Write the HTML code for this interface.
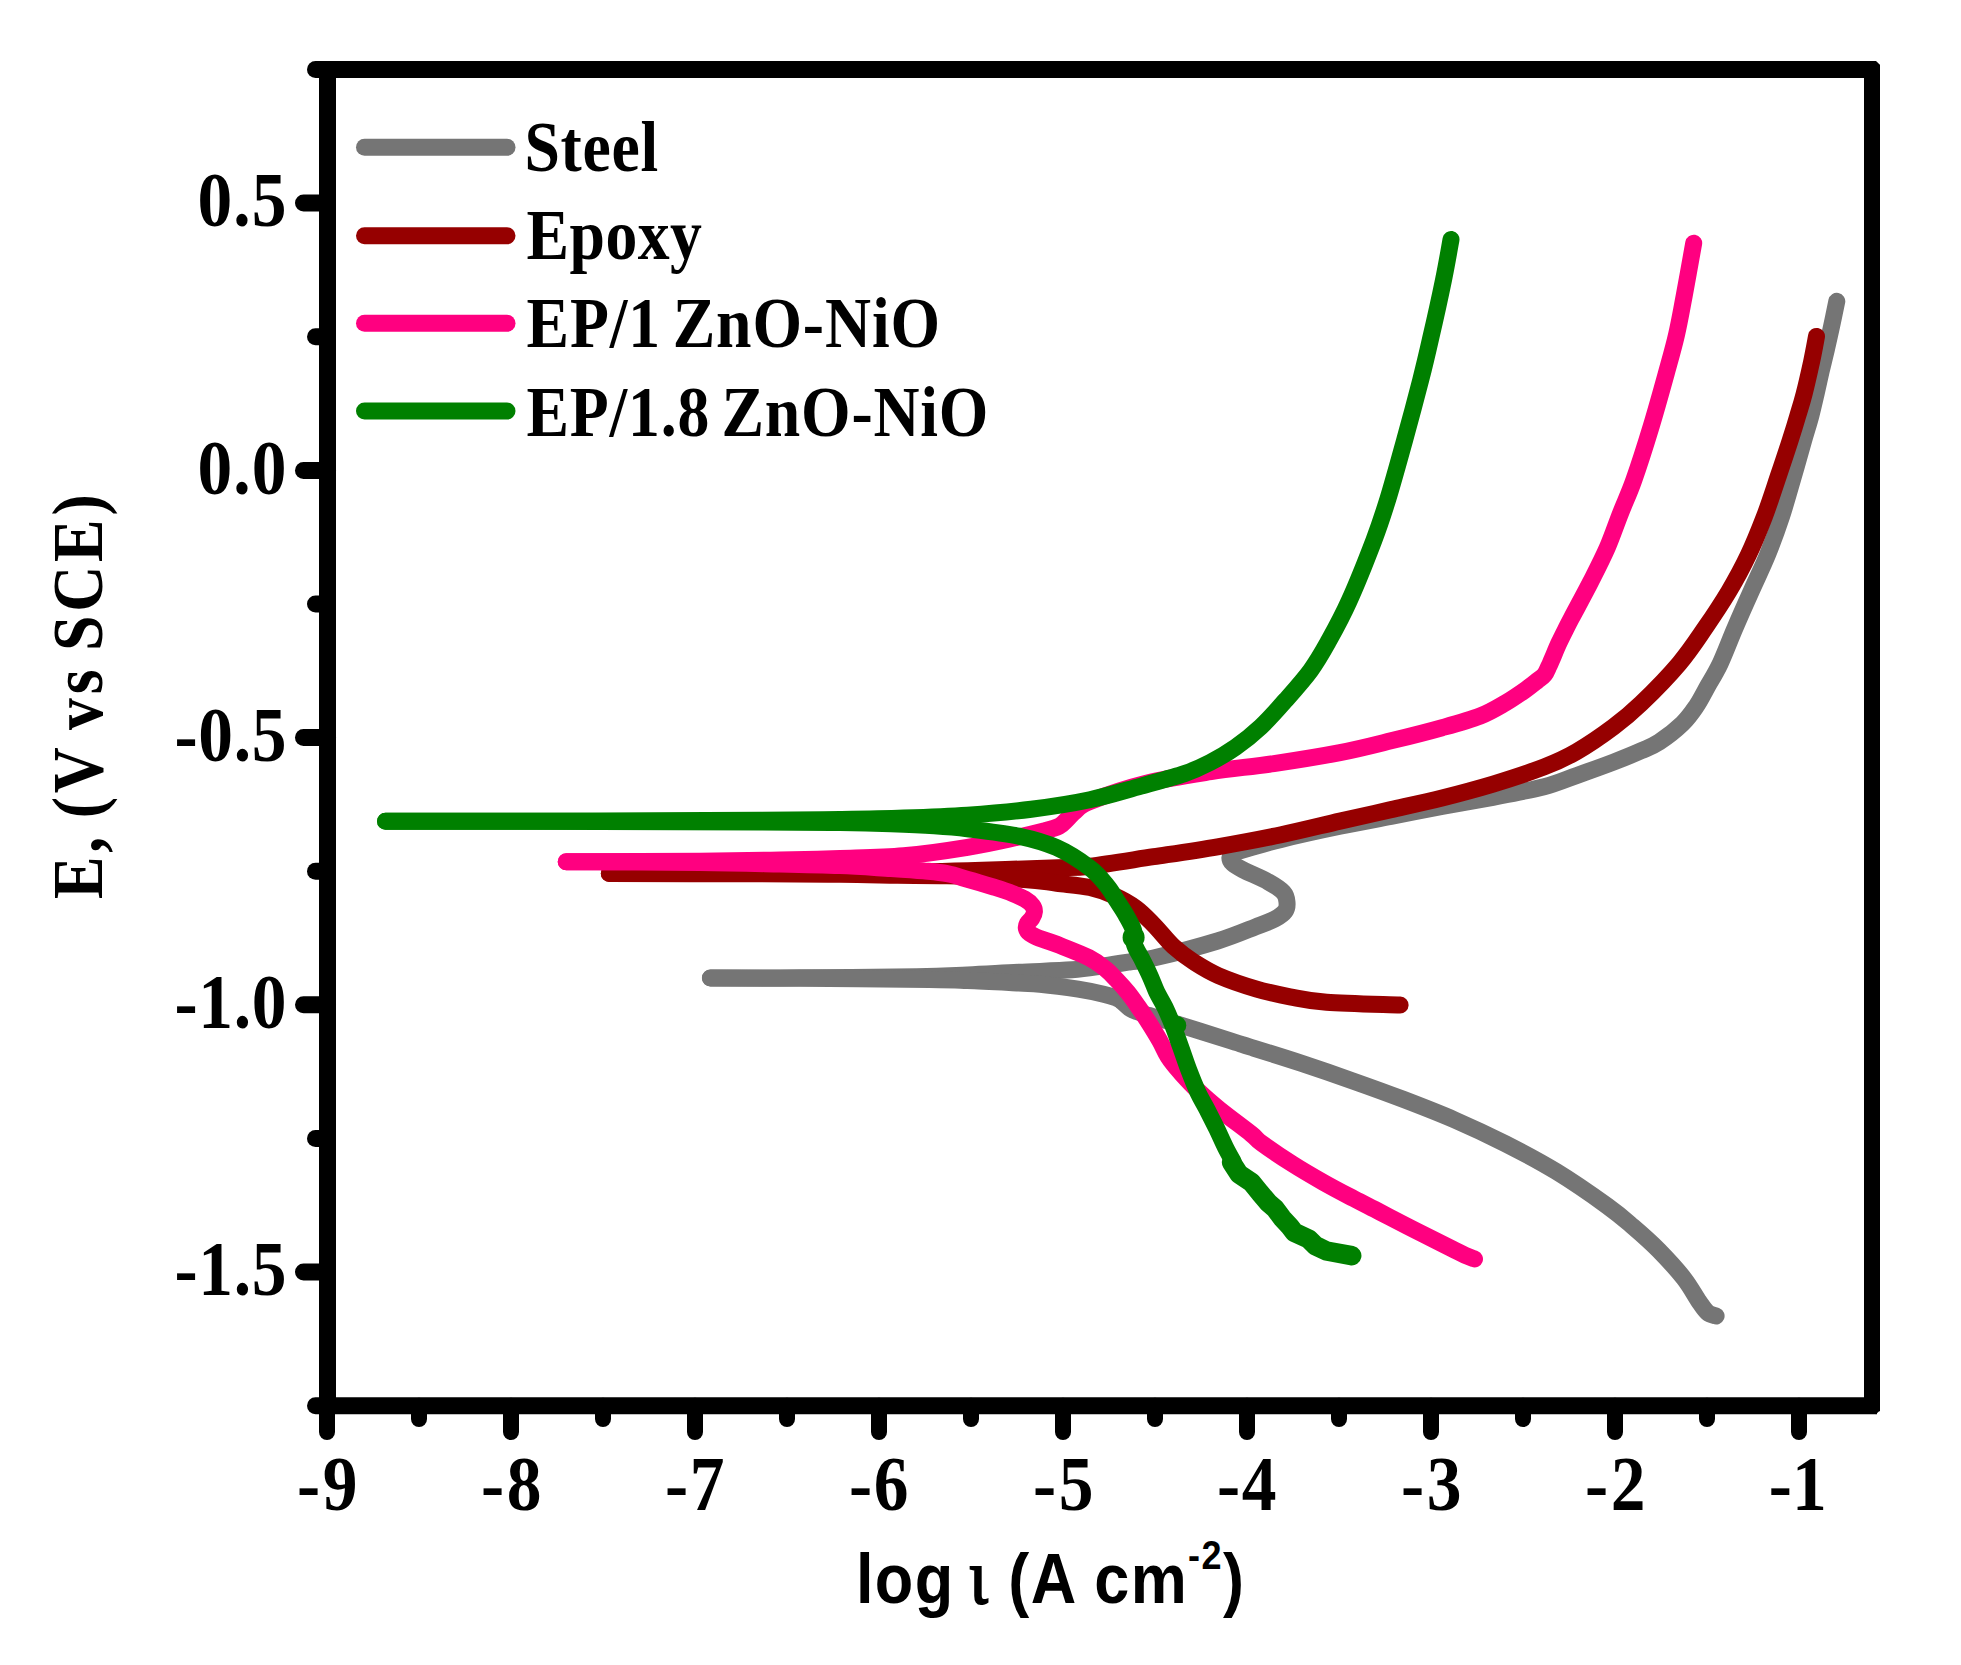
<!DOCTYPE html>
<html lang="en"><head><meta charset="utf-8"><title>Polarization curves</title>
<style>
html,body{margin:0;padding:0;background:#fff}
svg{display:block}
.ser{font-family:"Liberation Serif",serif;font-weight:bold;fill:#000;word-spacing:-6px}
.san{font-family:"Liberation Sans",sans-serif;font-weight:bold;fill:#000}
.cv{fill:none;stroke-width:17;stroke-linecap:round;stroke-linejoin:round}
.ax{fill:none;stroke:#000;stroke-width:17}
.tk{fill:none;stroke:#000;stroke-width:17;stroke-linecap:round}
</style></head><body>
<svg width="1961" height="1665" viewBox="0 0 1961 1665">
<rect width="1961" height="1665" fill="#fff"/>
<g class="cv" stroke="#757575">
<path d="M710.4 978.0C725.3 978.0 765.7 978.0 800.0 977.8C834.3 977.6 888.6 977.3 916.5 976.8C944.4 976.4 950.5 975.7 967.5 974.9C984.5 974.2 1001.1 973.1 1018.5 972.3C1035.9 971.4 1057.7 970.9 1071.9 969.8C1086.1 968.7 1094.2 967.1 1103.7 965.8C1113.3 964.5 1120.9 963.3 1129.2 962.0C1137.6 960.7 1139.0 961.6 1153.7 958.1C1168.4 954.6 1200.5 946.2 1217.5 941.0C1234.5 935.7 1246.1 930.5 1255.6 926.8C1265.2 923.2 1270.0 921.6 1274.9 919.0C1279.8 916.4 1283.1 914.1 1285.1 911.3C1287.1 908.5 1287.3 905.5 1287.0 902.4C1286.7 899.3 1286.6 895.9 1283.5 892.5C1280.4 889.1 1275.2 885.8 1268.5 882.0C1261.8 878.2 1249.0 873.0 1243.0 869.9C1237.0 866.8 1235.0 865.5 1232.8 863.5C1230.6 861.5 1229.8 859.6 1229.9 857.8C1230.0 856.0 1230.2 854.5 1233.4 852.9C1236.7 851.3 1241.4 850.5 1249.4 848.2C1257.4 845.9 1266.1 843.0 1281.2 839.4C1296.3 835.7 1321.7 830.1 1340.0 826.3C1358.3 822.4 1374.0 819.7 1391.0 816.4C1408.0 813.1 1425.1 809.6 1442.1 806.4C1459.1 803.2 1476.0 800.5 1493.0 797.3C1510.0 794.0 1530.1 790.3 1544.1 786.7C1558.1 783.1 1565.3 779.5 1576.9 775.4C1588.5 771.3 1602.8 766.2 1613.5 762.1C1624.2 758.0 1633.5 754.2 1641.1 750.8C1648.8 747.4 1652.6 746.4 1659.4 741.9C1666.3 737.3 1676.3 729.5 1682.4 723.6C1688.5 717.7 1691.8 712.8 1696.1 706.5C1700.3 700.3 1703.7 693.3 1707.7 686.1C1711.8 678.9 1715.6 673.2 1720.3 663.3C1724.9 653.5 1730.3 638.8 1735.5 626.9C1740.6 614.9 1745.7 603.5 1751.1 591.5C1756.4 579.5 1762.4 567.4 1767.5 554.9C1772.6 542.3 1777.3 529.4 1781.6 516.4C1785.8 503.4 1789.6 489.6 1793.3 476.8C1797.0 464.1 1800.9 450.2 1803.8 440.0C1806.7 429.9 1808.8 423.6 1810.8 416.0C1812.8 408.4 1814.3 401.7 1816.0 394.3C1817.7 386.9 1819.4 379.0 1821.1 371.5C1822.9 364.0 1824.6 357.0 1826.4 349.4C1828.1 341.8 1830.0 333.7 1831.7 325.7C1833.4 317.7 1836.0 305.4 1836.8 301.3"/>
<path d="M710.4 978.0C725.3 978.0 763.5 978.0 800.0 978.3C836.5 978.6 901.3 979.2 929.2 979.6C957.1 980.0 952.6 980.0 967.5 980.6C982.4 981.1 1006.4 982.4 1018.5 983.0C1030.6 983.7 1030.0 983.3 1040.0 984.3C1049.9 985.3 1067.6 987.6 1078.2 989.2C1088.8 990.9 1097.3 992.7 1103.6 994.2C1110.0 995.6 1113.4 996.9 1116.4 998.0C1119.4 999.2 1119.4 999.4 1121.5 1001.1C1123.7 1002.7 1126.7 1006.1 1129.3 1007.9C1131.8 1009.7 1134.2 1010.6 1136.9 1011.7C1139.7 1012.8 1140.7 1012.9 1145.8 1014.5C1150.9 1016.0 1153.3 1016.6 1167.5 1021.0C1181.7 1025.4 1217.4 1036.7 1231.2 1041.0C1245.0 1045.3 1238.4 1043.3 1250.0 1047.0C1261.6 1050.6 1284.0 1057.5 1301.0 1063.1C1318.0 1068.7 1335.1 1074.6 1352.1 1080.7C1369.1 1086.7 1386.1 1092.8 1403.1 1099.3C1420.1 1105.8 1437.2 1112.4 1454.2 1119.7C1471.2 1127.1 1488.2 1135.0 1505.2 1143.6C1522.3 1152.3 1539.2 1161.2 1556.3 1171.6C1573.3 1182.0 1594.5 1196.8 1607.3 1206.0C1620.0 1215.2 1624.3 1219.2 1632.8 1226.5C1641.3 1233.8 1650.0 1241.4 1658.5 1250.0C1666.9 1258.6 1677.0 1269.5 1683.7 1278.1C1690.5 1286.7 1695.0 1295.8 1699.0 1301.5C1703.0 1307.2 1704.7 1310.1 1707.5 1312.5C1710.3 1314.9 1714.7 1315.4 1716.1 1316.0"/>
</g>
<g class="cv" stroke="#960000">
<path d="M609.3 873.5C634.4 873.5 721.5 873.3 760.0 873.2C798.5 873.1 809.7 873.1 840.0 872.8C870.3 872.5 914.4 872.0 942.0 871.4C969.6 870.9 986.4 870.2 1005.7 869.5C1025.0 868.9 1044.0 868.3 1058.0 867.7C1072.1 867.1 1074.0 868.0 1090.0 866.2C1105.9 864.3 1132.5 859.9 1153.7 856.7C1175.0 853.5 1196.2 850.5 1217.5 846.8C1238.7 843.1 1260.8 839.0 1281.2 834.7C1301.6 830.4 1321.7 825.3 1340.0 821.1C1358.3 816.9 1374.0 813.5 1391.0 809.6C1408.0 805.8 1425.1 802.2 1442.1 798.0C1459.1 793.7 1476.1 789.2 1493.1 784.1C1510.1 778.9 1530.2 772.3 1544.2 766.9C1558.1 761.5 1565.2 758.3 1576.7 751.6C1588.3 744.9 1602.8 734.9 1613.5 726.9C1624.2 718.9 1630.2 714.0 1641.2 703.4C1652.1 692.9 1668.6 676.1 1679.3 663.4C1690.1 650.6 1697.5 638.9 1705.8 626.9C1714.0 615.0 1721.6 603.5 1728.8 591.5C1735.9 579.5 1742.5 567.4 1748.4 554.9C1754.4 542.4 1759.5 529.4 1764.5 516.4C1769.4 503.4 1773.8 489.6 1778.1 476.8C1782.4 464.1 1787.1 450.1 1790.3 440.0C1793.6 429.8 1795.5 423.6 1797.7 416.0C1800.0 408.4 1801.7 403.3 1804.0 394.3C1806.4 385.2 1809.5 371.3 1811.6 361.7C1813.7 352.1 1815.7 340.6 1816.5 336.4"/>
<path d="M609.3 873.5C634.4 873.5 721.6 873.7 760.0 873.8C798.4 873.9 817.1 874.0 840.0 874.3C862.9 874.5 879.6 875.0 897.4 875.3C915.2 875.5 926.0 875.2 947.0 875.8C968.0 876.5 1005.3 878.1 1023.6 879.4C1041.9 880.6 1045.7 881.9 1056.7 883.2C1067.8 884.6 1080.5 885.5 1089.9 887.5C1099.4 889.6 1106.0 892.1 1113.6 895.5C1121.3 898.9 1129.0 903.1 1135.8 908.1C1142.5 913.0 1147.7 918.7 1154.0 925.1C1160.3 931.5 1166.8 940.2 1173.4 946.4C1180.1 952.5 1186.4 957.1 1193.9 962.0C1201.4 966.8 1208.1 971.2 1218.6 975.7C1229.0 980.2 1244.8 985.6 1256.7 989.1C1268.6 992.7 1278.4 994.6 1290.0 996.8C1301.7 999.0 1308.3 1000.9 1326.6 1002.3C1344.9 1003.7 1387.8 1004.6 1400.1 1005.1"/>
</g>
<g class="cv" stroke="#ff0080">
<path d="M566.2 861.8C588.5 861.7 664.4 861.5 700.0 861.2C735.6 860.9 756.7 860.4 780.0 860.0C803.3 859.5 819.4 859.2 840.0 858.5C860.6 857.8 882.4 857.6 903.7 855.8C924.9 853.9 948.4 850.4 967.5 847.3C986.6 844.2 1005.7 839.7 1018.5 837.0C1031.2 834.3 1037.2 832.8 1044.0 831.0C1050.8 829.2 1055.5 828.0 1059.3 826.1C1063.1 824.2 1064.1 822.1 1066.9 819.5C1069.7 816.9 1071.9 813.6 1075.9 810.6C1079.8 807.5 1078.7 805.7 1090.5 801.2C1102.2 796.6 1126.3 788.2 1146.4 783.2C1166.5 778.3 1189.7 774.9 1211.0 771.6C1232.2 768.3 1252.4 766.8 1273.9 763.6C1295.4 760.4 1320.4 756.4 1340.0 752.6C1359.5 748.8 1374.0 745.0 1391.0 740.8C1408.0 736.7 1427.2 731.9 1442.1 727.7C1457.0 723.6 1469.6 720.2 1480.2 716.0C1490.9 711.8 1498.3 707.0 1506.0 702.6C1513.6 698.1 1521.1 692.8 1526.3 689.2C1531.4 685.6 1534.0 683.4 1537.0 681.0C1540.0 678.6 1542.5 677.3 1544.5 674.8C1546.5 672.3 1547.7 668.6 1549.0 666.0C1550.3 663.4 1550.4 662.8 1552.1 659.0C1553.8 655.1 1556.5 648.2 1559.1 642.7C1561.6 637.3 1564.8 631.1 1567.2 626.3C1569.6 621.5 1569.7 621.4 1573.6 614.0C1577.5 606.7 1584.9 593.2 1590.5 582.2C1596.1 571.1 1602.1 559.5 1607.2 547.9C1612.2 536.3 1616.2 524.1 1620.7 512.8C1625.1 501.5 1628.8 494.4 1633.9 479.9C1639.0 465.5 1645.9 443.8 1651.3 426.0C1656.7 408.2 1662.2 388.2 1666.4 373.0C1670.6 357.8 1673.6 347.6 1676.5 334.9C1679.5 322.1 1681.2 311.7 1684.1 296.4C1687.0 281.1 1692.1 252.1 1693.7 243.2"/>
<path d="M566.2 861.8C588.5 861.9 664.4 862.1 700.0 862.5C735.6 862.9 756.7 863.5 780.0 864.0C803.3 864.5 821.5 864.9 840.0 865.6C858.5 866.4 877.1 867.7 891.0 868.5C904.9 869.4 914.1 870.0 923.5 870.9C932.8 871.8 939.7 872.3 947.1 873.7C954.4 875.1 959.9 877.1 967.5 879.3C975.2 881.4 985.6 884.5 993.0 886.8C1000.4 889.2 1006.7 891.2 1012.1 893.3C1017.4 895.4 1021.5 897.2 1024.9 899.2C1028.3 901.2 1030.9 903.5 1032.5 905.6C1034.1 907.7 1034.5 909.8 1034.4 911.9C1034.3 914.0 1033.1 916.4 1031.9 918.3C1030.7 920.2 1028.3 921.7 1027.4 923.4C1026.5 925.1 1026.0 926.8 1026.4 928.5C1026.8 930.2 1027.9 932.0 1030.0 933.6C1032.1 935.2 1034.4 936.3 1038.9 938.1C1043.4 939.9 1048.5 941.1 1056.8 944.3C1065.1 947.6 1080.8 953.5 1088.9 957.6C1097.1 961.8 1101.2 965.4 1105.8 969.1C1110.5 972.9 1113.1 976.1 1116.8 980.0C1120.5 983.9 1124.5 988.3 1127.9 992.6C1131.4 997.0 1134.4 1001.3 1137.7 1006.0C1141.0 1010.7 1143.9 1015.0 1147.7 1020.9C1151.4 1026.7 1156.6 1035.1 1160.0 1041.1C1163.4 1047.2 1164.9 1051.9 1168.3 1057.0C1171.6 1062.2 1175.2 1066.4 1180.1 1072.0C1185.1 1077.5 1191.2 1084.3 1197.8 1090.5C1204.3 1096.8 1210.7 1102.3 1219.6 1109.6C1228.5 1116.8 1244.3 1128.4 1251.3 1134.0C1258.4 1139.7 1255.0 1138.4 1261.9 1143.4C1268.7 1148.4 1282.1 1157.5 1292.3 1163.9C1302.5 1170.4 1312.7 1176.3 1322.9 1182.1C1333.1 1187.9 1344.1 1193.6 1353.6 1198.6C1363.1 1203.6 1371.2 1207.5 1380.0 1212.1C1388.8 1216.6 1397.7 1221.4 1406.3 1225.8C1415.0 1230.3 1424.1 1234.8 1431.8 1238.6C1439.4 1242.5 1446.7 1246.1 1452.2 1248.9C1457.7 1251.6 1461.3 1253.5 1465.0 1255.2C1468.7 1256.9 1472.9 1258.3 1474.5 1258.9"/>
</g>
<g class="cv" stroke="#008000">
<path d="M385.5 821.2C421.2 821.2 537.6 821.2 600.0 821.0C662.4 820.8 720.0 820.5 760.0 820.3C800.0 820.0 816.0 820.0 840.0 819.6C863.9 819.2 882.5 818.9 903.7 818.1C925.0 817.4 946.2 816.7 967.5 815.2C988.8 813.7 1010.8 811.8 1031.2 809.2C1051.6 806.6 1071.6 803.6 1089.9 799.7C1108.2 795.9 1125.3 790.4 1141.1 786.1C1156.8 781.7 1173.0 777.5 1184.5 773.6C1196.0 769.7 1201.6 766.9 1210.1 762.5C1218.6 758.1 1227.1 753.2 1235.6 747.2C1244.1 741.2 1252.6 734.5 1260.9 726.7C1269.3 718.8 1277.4 709.6 1285.6 700.2C1293.9 690.8 1303.5 680.1 1310.6 670.4C1317.7 660.7 1321.7 653.5 1328.1 642.0C1334.5 630.5 1341.4 618.3 1349.0 601.3C1356.7 584.3 1367.5 557.1 1374.0 540.0C1380.4 523.0 1382.7 515.7 1387.9 499.0C1393.0 482.2 1399.3 459.4 1404.8 439.5C1410.3 419.7 1416.4 396.7 1420.7 380.0C1425.0 363.2 1426.7 355.8 1430.5 339.0C1434.4 322.3 1440.2 296.1 1443.6 279.5C1447.0 262.9 1449.8 246.1 1451.0 239.4"/>
<path d="M385.5 821.2C421.2 821.2 537.6 821.4 600.0 821.5C662.4 821.6 720.0 821.9 760.0 822.0C800.0 822.2 818.2 822.2 840.0 822.5C861.8 822.8 875.3 823.2 891.0 823.8C906.7 824.3 921.5 824.9 934.3 825.8C947.1 826.6 953.5 827.0 967.5 828.8C981.6 830.5 1003.8 833.0 1018.6 836.1C1033.4 839.3 1044.7 842.3 1056.5 847.6C1068.4 852.9 1081.4 861.6 1089.9 868.0C1098.3 874.3 1102.6 880.3 1107.1 885.8C1111.7 891.3 1114.1 896.3 1117.1 901.0C1120.2 905.7 1122.6 909.0 1125.3 913.9C1128.0 918.8 1132.1 925.3 1133.6 930.4C1135.1 935.5 1133.2 939.8 1134.5 944.5C1135.8 949.2 1139.1 953.4 1141.6 958.5C1144.1 963.6 1147.2 969.6 1149.7 975.2C1152.3 980.7 1154.2 986.5 1156.7 991.9C1159.3 997.3 1162.3 1001.7 1165.1 1007.5C1167.8 1013.2 1170.6 1019.9 1173.2 1026.5C1175.8 1033.1 1178.0 1039.7 1180.6 1046.9C1183.2 1054.1 1185.8 1062.2 1188.7 1069.8C1191.6 1077.4 1195.1 1086.1 1198.1 1092.7C1201.2 1099.3 1203.9 1103.4 1207.0 1109.4C1210.1 1115.5 1213.7 1122.5 1216.8 1128.8C1219.8 1135.1 1222.7 1141.8 1225.4 1147.2C1228.1 1152.6 1231.8 1159.1 1233.1 1161.5"/>
<path stroke-width="19.5" d="M1231.6 1162.5L1239.2 1174.2L1251.5 1182.4L1260.2 1193.1L1268.9 1203.3L1275.0 1208.4L1282.1 1218.1L1289.8 1226.3L1294.4 1232.4L1308.7 1239.0L1315.8 1245.9L1326.5 1251.0L1351.7 1255.7"/>
</g>
<circle cx="1133.6" cy="937.4" r="11" fill="#008000"/>
<circle cx="1176.8" cy="1025.4" r="9.5" fill="#008000"/>
<path class="cv" stroke="#757575" d="M364.5 147.3H507"/>
<path class="cv" stroke="#960000" d="M364.5 235.8H507"/>
<path class="cv" stroke="#ff0080" d="M364.5 323.3H507"/>
<path class="cv" stroke="#008000" d="M364.5 411.0H507"/>
<g class="ax">
<path d="M327.5 69.5V1405.7"/>
<path stroke-width="16" d="M1872.0 61.0V1411.2"/>
<path d="M327.5 69.5H1880.0"/>
<path d="M327.5 1405.7H1877.0"/>
</g>
<path d="M1875.5 60.5H1880.7V65.5Z" fill="#fff"/>
<path d="M1880.0 1410.2L1876.0 1414.2L1864.2 1405.7Z" fill="#000"/>
<g class="tk">
<path d="M315.5 69.5H327.5"/>
<path d="M303.5 203.1H327.5"/>
<path d="M315.5 336.7H327.5"/>
<path d="M303.5 470.4H327.5"/>
<path d="M315.5 604.0H327.5"/>
<path d="M303.5 737.6H327.5"/>
<path d="M315.5 871.2H327.5"/>
<path d="M303.5 1004.8H327.5"/>
<path d="M315.5 1138.5H327.5"/>
<path d="M303.5 1272.1H327.5"/>
<path d="M315.5 1405.7H327.5"/>
<path stroke-width="16" d="M327.0 1405.7V1432.0"/>
<path stroke-width="16" d="M419.0 1405.7V1419.0"/>
<path stroke-width="16" d="M511.0 1405.7V1432.0"/>
<path stroke-width="16" d="M603.0 1405.7V1419.0"/>
<path stroke-width="16" d="M695.0 1405.7V1432.0"/>
<path stroke-width="16" d="M787.0 1405.7V1419.0"/>
<path stroke-width="16" d="M879.0 1405.7V1432.0"/>
<path stroke-width="16" d="M971.0 1405.7V1419.0"/>
<path stroke-width="16" d="M1063.0 1405.7V1432.0"/>
<path stroke-width="16" d="M1155.0 1405.7V1419.0"/>
<path stroke-width="16" d="M1247.0 1405.7V1432.0"/>
<path stroke-width="16" d="M1339.0 1405.7V1419.0"/>
<path stroke-width="16" d="M1431.0 1405.7V1432.0"/>
<path stroke-width="16" d="M1523.0 1405.7V1419.0"/>
<path stroke-width="16" d="M1615.0 1405.7V1432.0"/>
<path stroke-width="16" d="M1707.0 1405.7V1419.0"/>
<path stroke-width="16" d="M1799.0 1405.7V1432.0"/>
</g>
<text class="ser" font-size="72" transform="translate(524.50 171.40) scale(0.885 1)" textLength="150.96" lengthAdjust="spacing">Steel</text>
<text class="ser" font-size="72" transform="translate(526.50 259.40) scale(0.885 1)" textLength="198.19" lengthAdjust="spacing">Epoxy</text>
<text class="ser" font-size="72" transform="translate(526.50 347.30) scale(0.885 1)" textLength="467.34" lengthAdjust="spacing">EP/1 ZnO-NiO</text>
<text class="ser" font-size="72" transform="translate(526.50 436.10) scale(0.885 1)" textLength="521.92" lengthAdjust="spacing">EP/1.8 ZnO-NiO</text>
<text class="ser" font-size="78.5" transform="translate(197.60 226.32) scale(0.885 1)" textLength="100.45" lengthAdjust="spacing">0.5</text>
<text class="ser" font-size="78.5" transform="translate(197.60 493.56) scale(0.885 1)" textLength="100.45" lengthAdjust="spacing">0.0</text>
<text class="ser" font-size="78.5" transform="translate(174.40 760.80) scale(0.885 1)" textLength="126.67" lengthAdjust="spacing">-0.5</text>
<text class="ser" font-size="78.5" transform="translate(174.40 1028.04) scale(0.885 1)" textLength="126.67" lengthAdjust="spacing">-1.0</text>
<text class="ser" font-size="78.5" transform="translate(174.40 1295.28) scale(0.885 1)" textLength="126.67" lengthAdjust="spacing">-1.5</text>
<text class="ser" font-size="78.5" transform="translate(297.00 1510.40) scale(0.885 1)" textLength="68.47" lengthAdjust="spacing">-9</text>
<text class="ser" font-size="78.5" transform="translate(481.00 1510.40) scale(0.885 1)" textLength="68.47" lengthAdjust="spacing">-8</text>
<text class="ser" font-size="78.5" transform="translate(665.00 1510.40) scale(0.885 1)" textLength="67.34" lengthAdjust="spacing">-7</text>
<text class="ser" font-size="78.5" transform="translate(849.00 1510.40) scale(0.885 1)" textLength="67.34" lengthAdjust="spacing">-6</text>
<text class="ser" font-size="78.5" transform="translate(1033.00 1510.40) scale(0.885 1)" textLength="68.47" lengthAdjust="spacing">-5</text>
<text class="ser" font-size="78.5" transform="translate(1217.00 1510.40) scale(0.885 1)" textLength="67.34" lengthAdjust="spacing">-4</text>
<text class="ser" font-size="78.5" transform="translate(1401.00 1510.40) scale(0.885 1)" textLength="68.47" lengthAdjust="spacing">-3</text>
<text class="ser" font-size="78.5" transform="translate(1585.00 1510.40) scale(0.885 1)" textLength="68.47" lengthAdjust="spacing">-2</text>
<text class="ser" font-size="78.5" transform="translate(1768.85 1510.40) scale(0.885 1)" textLength="65.42" lengthAdjust="spacing">-1</text>
<text class="ser" font-size="72" transform="translate(102.10 899.00) rotate(-90) scale(0.885 1)" textLength="457.29" lengthAdjust="spacing">E, (V vs SCE)</text>
<text class="san" font-size="70" transform="translate(855.90 1603.00) scale(0.9 1)" textLength="431.11" lengthAdjust="spacing">log <tspan font-family="'Liberation Serif','DejaVu Serif',serif" font-weight="normal" font-size="78" dx="-5" stroke="#000" stroke-width="2">ι</tspan> (A cm<tspan font-size="40" dy="-34">-2</tspan><tspan dy="34">)</tspan></text>
</svg>
</body></html>
